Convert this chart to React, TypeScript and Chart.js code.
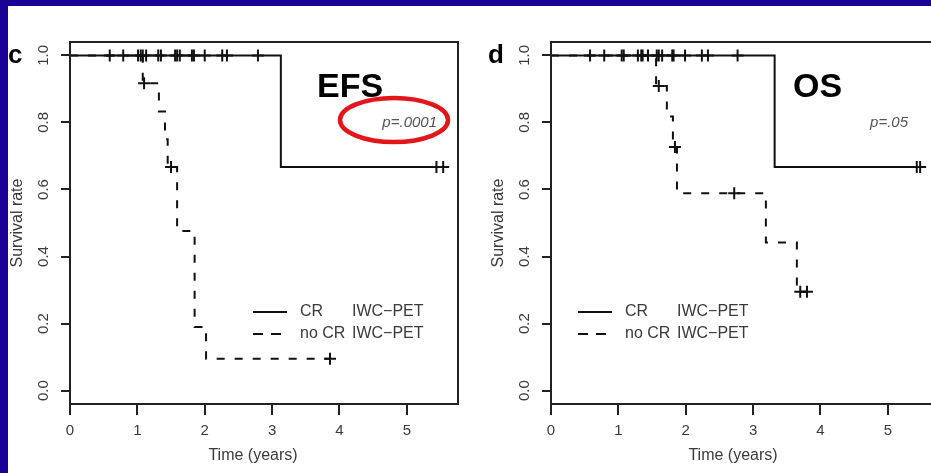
import React, { useEffect, useRef } from 'react';
import { Chart, registerables } from 'chart.js';

Chart.register(...registerables);

const FONT = '"Liberation Sans", Arial, Helvetica, sans-serif';
Chart.defaults.font.family = FONT;

// ---- shared axes ----
const xTicks = [0, 1, 2, 3, 4, 5];
const yTicks = [0, 0.2, 0.4, 0.6, 0.8, 1.0];
const yTickLabels = ['0.0', '0.2', '0.4', '0.6', '0.8', '1.0'];
const legendLabels = ['CR', 'no CR'];
const legendSuffix = 'IWC\u2212PET';

// ---- panel c : EFS ----
const efsCrTimes = [0, 3.13, 5.56];
const efsCrSurv = [1, 0.667, 0.667];
const efsCrCensorTimes = [0.59, 0.79, 1.01, 1.05, 1.08, 1.13, 1.31, 1.35, 1.56, 1.59, 1.63, 1.81, 1.84, 2.0, 2.26, 2.33, 2.79, 5.44, 5.54];
const efsCrCensorSurv = [1, 1, 1, 1, 1, 1, 1, 1, 1, 1, 1, 1, 1, 1, 1, 1, 1, 0.667, 0.667];
const efsNoCrTimes = [0, 1.08, 1.32, 1.41, 1.45, 1.59, 1.85, 2.02, 3.86];
const efsNoCrSurv = [1, 0.917, 0.833, 0.75, 0.667, 0.476, 0.19, 0.095, 0.095];
const efsNoCrCensorTimes = [1.1, 1.5, 3.86];
const efsNoCrCensorSurv = [0.917, 0.667, 0.095];

// ---- panel d : OS ----
const osCrTimes = [0, 3.32, 5.48];
const osCrSurv = [1, 0.667, 0.667];
const osCrCensorTimes = [0.58, 0.79, 1.05, 1.08, 1.29, 1.34, 1.36, 1.44, 1.57, 1.6, 1.65, 1.8, 1.82, 1.99, 2.24, 2.33, 2.77, 5.43, 5.48];
const osCrCensorSurv = [1, 1, 1, 1, 1, 1, 1, 1, 1, 1, 1, 1, 1, 1, 1, 1, 1, 0.667, 0.667];
const osNoCrTimes = [0, 1.56, 1.72, 1.81, 1.87, 3.19, 3.65, 3.8];
const osNoCrSurv = [1, 0.909, 0.818, 0.727, 0.589, 0.442, 0.295, 0.295];
const osNoCrCensorTimes = [1.6, 1.84, 2.72, 3.7, 3.8];
const osNoCrCensorSurv = [0.909, 0.727, 0.589, 0.295, 0.295];

const pts = (xs: number[], ys: number[]) => xs.map((x, i) => ({ x, y: ys[i] }));

type PanelCfg = {
  left: number; top: number; w: number; h: number;
  yAxisW: number; padRight: number;
  letter: string; letterDx: number;
  title: string; titleDx: number;
  pText: string; pDx: number;
  ellipse: boolean;
  legendDx: number;
  xTitleDx: number;
  series: { cr: any[]; crC: any[]; no: any[]; noC: any[] };
};

const panels: PanelCfg[] = [
  {
    left: 8, top: 6, w: 462, h: 467, yAxisW: 62, padRight: 12,
    letter: 'c', letterDx: -62, title: 'EFS', titleDx: 247, pText: 'p=.0001', pDx: 367,
    ellipse: true, legendDx: 183, xTitleDx: 183,
    series: {
      cr: pts(efsCrTimes, efsCrSurv), crC: pts(efsCrCensorTimes, efsCrCensorSurv),
      no: pts(efsNoCrTimes, efsNoCrSurv), noC: pts(efsNoCrCensorTimes, efsNoCrCensorSurv),
    },
  },
  {
    left: 470, top: 6, w: 490, h: 467, yAxisW: 81, padRight: 21,
    letter: 'd', letterDx: -63, title: 'OS', titleDx: 242, pText: 'p=.05', pDx: 357,
    ellipse: false, legendDx: 27, xTitleDx: 182,
    series: {
      cr: pts(osCrTimes, osCrSurv), crC: pts(osCrCensorTimes, osCrCensorSurv),
      no: pts(osNoCrTimes, osNoCrSurv), noC: pts(osNoCrCensorTimes, osNoCrCensorSurv),
    },
  },
];

function Panel({ cfg }: { cfg: PanelCfg }) {
  const ref = useRef<HTMLCanvasElement>(null);
  useEffect(() => {
    const deco = {
      id: 'deco',
      afterDraw(chart: any) {
        const { ctx, chartArea: ca, scales } = chart;
        const L = ca.left, T = ca.top, B = ca.bottom;
        ctx.save();
        // box
        ctx.strokeStyle = '#222';
        ctx.lineWidth = 2;
        ctx.setLineDash([]);
        ctx.strokeRect(ca.left, ca.top, ca.right - ca.left, ca.bottom - ca.top);
        // y tick labels (rotated)
        ctx.fillStyle = '#3a3a3a';
        ctx.font = `15px ${FONT}`;
        ctx.textAlign = 'center';
        ctx.textBaseline = 'middle';
        yTicks.forEach((v, i) => {
          const y = scales.y.getPixelForValue(v);
          ctx.save();
          ctx.translate(L - 26, y);
          ctx.rotate(-Math.PI / 2);
          ctx.fillText(yTickLabels[i], 0, 0);
          ctx.restore();
        });
        // y title
        ctx.font = `16px ${FONT}`;
        ctx.save();
        ctx.translate(L - 52, (T + B) / 2);
        ctx.rotate(-Math.PI / 2);
        ctx.fillText('Survival rate', 0, 0);
        ctx.restore();
        // x title
        ctx.fillText('Time (years)', L + cfg.xTitleDx, B + 52);
        // panel letter
        ctx.fillStyle = '#000';
        ctx.textAlign = 'left';
        ctx.textBaseline = 'alphabetic';
        ctx.font = `bold 26px ${FONT}`;
        ctx.fillText(cfg.letter, L + cfg.letterDx, T + 21);
        // title
        ctx.font = `bold 34px ${FONT}`;
        ctx.fillText(cfg.title, L + cfg.titleDx, T + 55);
        // p value
        ctx.fillStyle = '#555';
        ctx.font = `italic 15px ${FONT}`;
        ctx.textAlign = 'right';
        ctx.fillText(cfg.pText, L + cfg.pDx, T + 85);
        if (cfg.ellipse) {
          ctx.strokeStyle = '#e3161c';
          ctx.lineWidth = 4.5;
          ctx.beginPath();
          ctx.ellipse(L + 324, T + 78, 54, 22, 0, 0, Math.PI * 2);
          ctx.stroke();
        }
        // legend
        const lx = L + cfg.legendDx;
        const rows = [T + 270, T + 292];
        ctx.strokeStyle = '#111';
        ctx.lineWidth = 2;
        ctx.fillStyle = '#3a3a3a';
        ctx.font = `16px ${FONT}`;
        ctx.textAlign = 'left';
        ctx.textBaseline = 'middle';
        rows.forEach((ry, i) => {
          ctx.setLineDash(i === 0 ? [] : [10, 8]);
          ctx.beginPath();
          ctx.moveTo(lx, ry);
          ctx.lineTo(lx + 34, ry);
          ctx.stroke();
          ctx.fillText(legendLabels[i], lx + 47, ry);
          ctx.fillText(legendSuffix, lx + 99, ry);
        });
        ctx.restore();
      },
    };

    const lineDs = (data: any[], dash: number[]) => ({
      data, showLine: true, stepped: 'before', borderColor: '#111', borderWidth: 2,
      borderDash: dash, pointRadius: 0, pointHoverRadius: 0, fill: false, borderCapStyle: 'butt',
    });
    const censorDs = (data: any[]) => ({
      data, showLine: false, pointStyle: 'cross', pointRadius: 6, pointHoverRadius: 6,
      pointBorderWidth: 2, pointBorderColor: '#111', pointBackgroundColor: '#111', borderColor: '#111',
    });

    const chart = new Chart(ref.current as HTMLCanvasElement, {
      type: 'scatter',
      data: {
        datasets: [
          lineDs(cfg.series.cr, []),
          lineDs(cfg.series.no, [8, 10]),
          censorDs(cfg.series.crC),
          censorDs(cfg.series.noC),
        ] as any,
      },
      options: {
        animation: false,
        responsive: false,
        events: [],
        layout: { padding: { top: 36, right: cfg.padRight, left: 0, bottom: 0 } },
        plugins: { legend: { display: false }, tooltip: { enabled: false } },
        scales: {
          x: {
            type: 'linear', min: 0, max: 5.76,
            afterBuildTicks: (s: any) => { s.ticks = xTicks.map((v) => ({ value: v })); },
            afterFit: (s: any) => { s.height = 69; },
            border: { display: false },
            grid: { drawOnChartArea: false, drawTicks: true, tickLength: 11, lineWidth: 2, color: '#222' },
            ticks: { color: '#3a3a3a', font: { size: 15, family: FONT }, padding: 7, maxRotation: 0, autoSkip: false, callback: (v: any) => String(v) },
          },
          y: {
            type: 'linear', min: -0.04, max: 1.04,
            afterBuildTicks: (s: any) => { s.ticks = yTicks.map((v) => ({ value: v })); },
            afterFit: (s: any) => { s.width = cfg.yAxisW; },
            border: { display: false },
            grid: { drawOnChartArea: false, drawTicks: true, tickLength: 9, lineWidth: 2, color: '#222' },
            ticks: { display: false },
          },
        },
      } as any,
      plugins: [deco],
    });
    return () => chart.destroy();
  }, []);
  return (
    <canvas
      ref={ref}
      width={cfg.w}
      height={cfg.h}
      style={{ position: 'absolute', left: cfg.left, top: cfg.top, width: cfg.w, height: cfg.h }}
    />
  );
}

export default function App() {
  return (
    <div style={{ position: 'fixed', left: 0, top: 0, width: 931, height: 473, background: '#1b0095', overflow: 'hidden' }}>
      <div style={{ position: 'absolute', left: 8, top: 6, right: 0, bottom: 0, background: '#ffffff' }} />
      {panels.map((p, i) => (
        <Panel key={i} cfg={p} />
      ))}
    </div>
  );
}
